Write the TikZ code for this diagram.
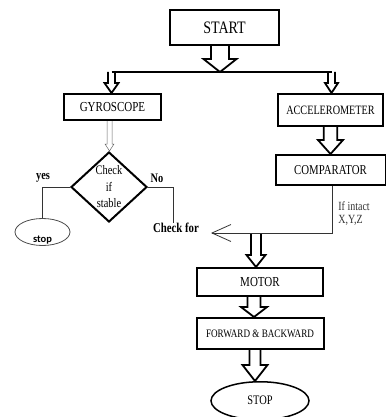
\documentclass[tikz,border=0pt]{standalone}
\usepackage{fontspec}
\setmainfont{Liberation Serif}[FakeStretch=0.8]
\newfontfamily\calibrifont{Carlito}
\usetikzlibrary{shapes,arrows.meta,positioning,calc}

% hollow block arrow: [style]{(from)}{(to)}{shaft half}{head half}{head length}
\newcommand{\blockarrow}[6][fatarrow]{%
  \draw[#1] let \p1=#2, \p2=#3 in
    (\x1-#4,\y1) -- (\x1-#4,\y2+#6) -- (\x1-#5,\y2+#6) -- (\x1,\y2)
    -- (\x1+#5,\y2+#6) -- (\x1+#4,\y2+#6) -- (\x1+#4,\y1);}

\begin{document}
\begin{tikzpicture}[
    x=1pt, y=-1pt,
    box/.style={draw, line width=2pt, inner sep=0pt, text centered, font=\fontsize{13.75}{15}\selectfont},
    endbox/.style={draw, ellipse, line width=1.5pt, inner sep=0pt, minimum width=98pt, minimum height=38pt, font=\fontsize{13}{15}\selectfont},
    smallend/.style={draw=black!70, ellipse, line width=0.8pt, inner sep=0pt, minimum width=55pt, minimum height=27pt},
    decision/.style={draw, diamond, line width=2pt, inner sep=0pt, minimum width=76pt, minimum height=70pt},
    fatarrow/.style={line width=1.8pt},
    thinarrow/.style={line width=0.5pt, black!60},
    splitline/.style={line width=2pt},
    link/.style={line width=0.8pt, black!80},
    note/.style={font=\fontsize{12.5}{13}\selectfont, inner sep=0pt},
    boldnote/.style={font=\fontsize{13}{14}\selectfont\bfseries, inner sep=0pt}
]
    \useasboundingbox (0,0) rectangle (385,417);

    \node[box, minimum width=109pt, minimum height=35pt, font=\fontsize{17.5}{19}\selectfont] (start) at (224.5,27.5) {START};
    \node[box, minimum width=97pt, minimum height=26pt] (gyro) at (112.5,107) {GYROSCOPE};
    \node[box, minimum width=105pt, minimum height=32pt, font=\fontsize{12.75}{14}\selectfont] (accel) at (330.5,110) {ACCELEROMETER};
    \node[box, minimum width=110pt, minimum height=30pt, font=\fontsize{13.5}{15}\selectfont, below=27pt of accel] (comp) {COMPARATOR};
    \node[box, minimum width=126pt, minimum height=28pt] (motor) at (260,282) {MOTOR\hspace{20pt}};
    \node[box, minimum width=127pt, minimum height=31pt, font=\fontsize{11.4}{13}\selectfont, below=20pt of motor] (fb) {FORWARD \& BACKWARD\hspace{6pt}};
    \node[endbox, below=31pt of fb] (stop) {STOP};

    \node[decision, label={[note, font=\fontsize{13}{16.5}\selectfont, align=center]center:Check\\if\\stable}] (dia) at (109,187) {};
    \node[smallend, label={[boldnote, font=\calibrifont\fontsize{10.5}{12}\selectfont\bfseries, yshift=-8pt]center:stop}] (stopy) at (42.5,232) {};
    \node[boldnote] (yes) at (43,178) {yes};
    \node[boldnote] (no) at (157,178) {No};
    \node[boldnote, font=\fontsize{13.5}{15}\selectfont\bfseries] (chk) at (176,228) {Check for};

    \coordinate (splitl) at (111.5,72);
    \coordinate (splitm) at (220,72);
    \coordinate (splitr) at (331.5,72);
    \coordinate (chkin) at (211,233);
    \coordinate (mjoin) at (256,233);

    \draw[splitline] (splitl) -- (splitr);
    \blockarrow{([xshift=-4.5pt]start.south)}{(splitm)}{9pt}{16.5pt}{13pt}
    \blockarrow{(splitl)}{(gyro.north)}{3.5pt}{7pt}{10pt}
    \blockarrow{(splitr)}{(accel.north)}{3.5pt}{6.5pt}{10pt}
    \blockarrow{(accel.south)}{(comp.north)}{6.7pt}{12.5pt}{14pt}
    \blockarrow[thinarrow]{([xshift=-3pt]gyro.south)}{(dia.north)}{2.5pt}{4.5pt}{7pt}
    \blockarrow{(mjoin)}{(motor.north)}{5pt}{9.5pt}{12pt}
    \blockarrow{([xshift=-6pt]motor.south)}{(fb.north)}{6.5pt}{13pt}{10pt}
    \blockarrow{([xshift=-5pt]fb.south)}{(stop.north)}{5.5pt}{12.5pt}{16pt}

    \draw[link] (dia.west) -| (stopy.north);
    \draw[link] (dia.east) -| ([xshift=-3pt]chk.north);
    \draw[link, -{Straight Barb[length=19pt, width=17pt]}] ([xshift=1.5pt]comp.south) |- (chkin)
        node[pos=0.29, right=6pt, note, align=left] {If intact\\X,Y,Z};
\end{tikzpicture}
\end{document}
